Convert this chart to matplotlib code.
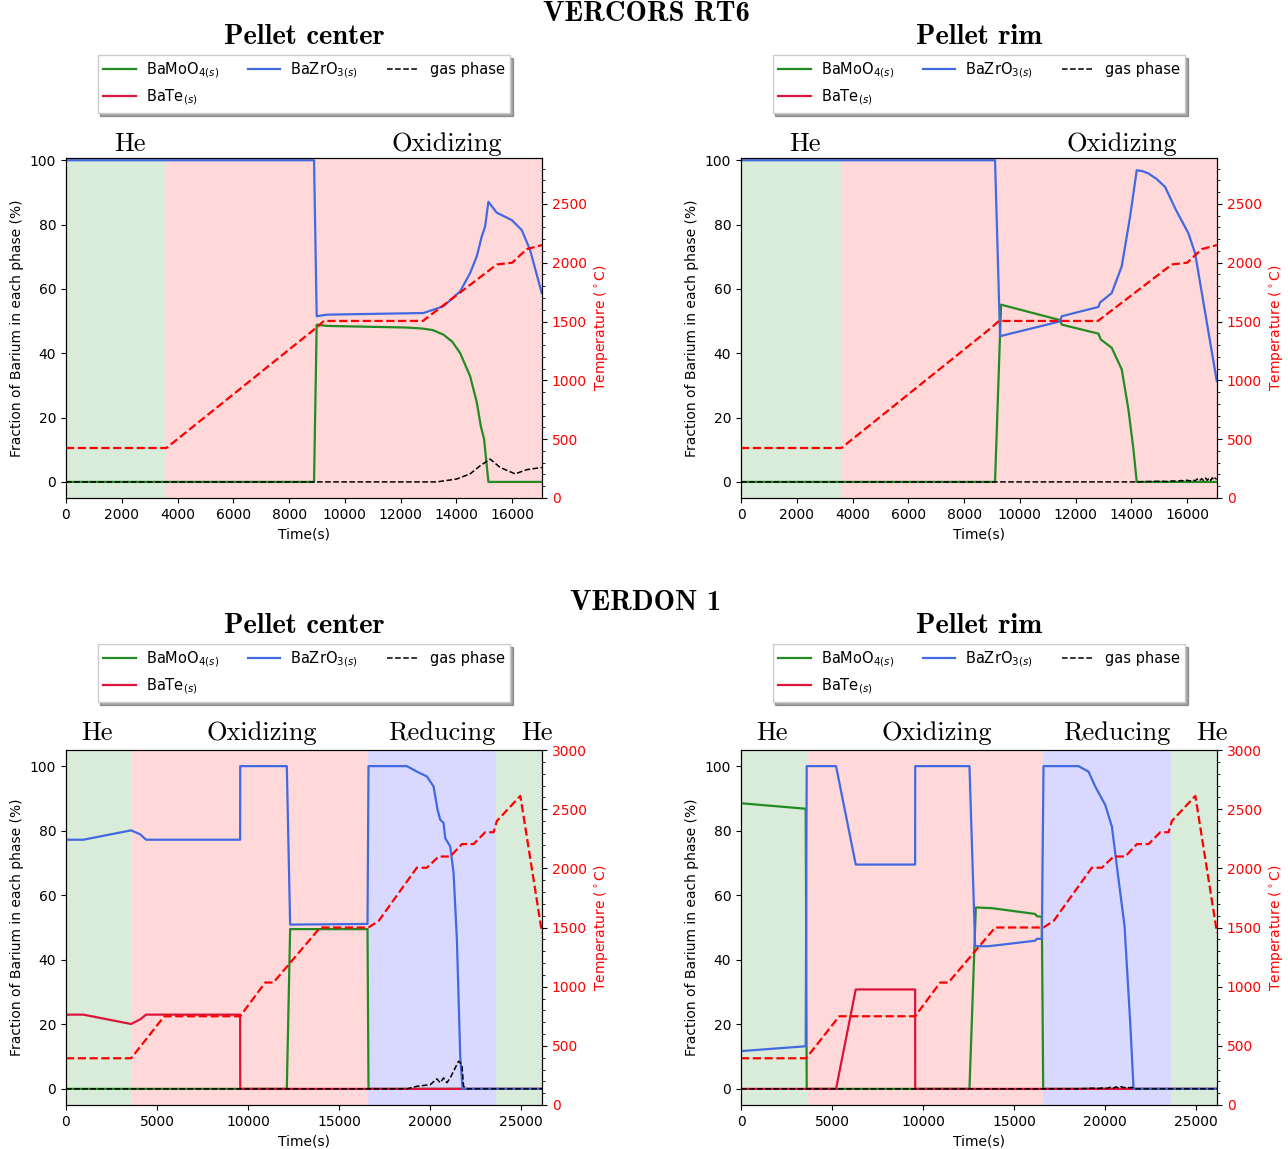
import matplotlib
matplotlib.use('Agg')
import matplotlib.pyplot as plt
from matplotlib.ticker import MultipleLocator

# ---------------- VERCORS RT6 ----------------
rt6_xmax = 17070
rt6_phase_edges = [0, 3600, 17070]
rt6_phase_names = ['He', 'Oxidizing']
rt6_phase_colors = ['green', 'red']

rt6_temp_t = [0, 3600, 8990, 9250, 12800, 15450, 16000, 16520, 17070]
rt6_temp = [425, 425, 1450, 1505, 1505, 1985, 2000, 2115, 2150]

# pellet center
rt6c_green_t = [0, 8895, 8990, 9350, 12200, 12757, 13150, 13533, 13850, 14132, 14491, 14730, 14874, 14993, 15148, 17061]
rt6c_green = [0, 0, 48.9, 48.5, 48.0, 47.7, 47.2, 45.8, 43.6, 40.1, 32.9, 24.8, 17.4, 13.3, 0, 0]
rt6c_red_t = []  # no BaTe at the pellet center
rt6c_red = []
rt6c_blue_t = [0, 8895, 8990, 9350, 12817, 13533, 14132, 14491, 14730, 14910, 15029, 15148, 15447, 15985, 16344, 16643, 17061]
rt6c_blue = [100, 100, 51.5, 52, 52.5, 54.6, 59.2, 64.9, 70.1, 76.3, 79.4, 87.1, 83.7, 81.4, 78.3, 72.1, 58.7]
rt6c_gas_t = [0, 13294, 14012, 14491, 14850, 15208, 15567, 16105, 16523, 17061]
rt6c_gas = [0, 0, 0.9, 2.5, 5.0, 7.1, 4.5, 2.5, 3.8, 4.5]

# pellet rim
rt6r_green_t = [0, 9110, 9326, 11442, 11502, 12817, 12901, 13294, 13653, 13892, 14072, 14192, 17061]
rt6r_green = [0, 0, 55.1, 50.3, 48.9, 46.1, 44.3, 41.7, 35.0, 22.6, 10.2, 0, 0]
rt6r_red_t = []
rt6r_red = []
rt6r_blue_t = [0, 9110, 9290, 11442, 11502, 12817, 12877, 13294, 13653, 13952, 14192, 14400, 14610, 14900,
               15208, 15600, 16045, 16284, 17061]
rt6r_blue = [100, 100, 45.3, 49.9, 51.5, 54.4, 55.8, 58.7, 67.0, 82.4, 96.9, 96.6, 95.9, 94.2,
             91.7, 84.5, 77.3, 71.1, 31.4]
rt6r_gas_t = [0, 14200, 14500, 14800, 15100, 15300, 15500, 15650, 15800, 15900, 16000, 16100, 16200,
              16280, 16360, 16440, 16520, 16590, 16660, 16720, 16780, 16840, 16900, 16950, 17000, 17061]
rt6r_gas = [0, 0, 0.1, 0.15, 0.2, 0.1, 0.3, 0.15, 0.45, 0.2, 0.55, 0.25, 0.7, 0.3, 0.9, 0.35, 1.0,
            0.4, 1.2, 0.5, 1.1, 0.45, 1.3, 0.6, 1.2, 0.8]

# ---------------- VERDON 1 ----------------
v1_xmax = 26160
v1_phase_edges = [0, 3600, 16610, 23650, 26160]
v1_phase_names = ['He', 'Oxidizing', 'Reducing', 'He']
v1_phase_colors = ['green', 'red', 'blue', 'green']

v1_temp_t = [0, 3580, 5400, 9570, 10950, 11400, 13970, 16620, 17180, 19280, 19830, 20480, 21120,
             21760, 22400, 23040, 23500, 23680, 24970, 26160]
v1_temp = [395, 395, 750, 750, 1035, 1035, 1500, 1500, 1555, 2005, 2005, 2100, 2100,
           2205, 2205, 2305, 2305, 2400, 2612, 1455]

# pellet center
v1c_green_t = [0, 12135, 12318, 16570, 16625, 26160]
v1c_green = [0, 0, 49.5, 49.5, 0, 0]
v1c_red_t = [0, 953, 3575, 4070, 4400, 9570, 9575, 26160]
v1c_red = [23, 23, 20.1, 21.5, 23, 23, 0, 0]
v1c_blue_t = [0, 953, 3575, 4070, 4400, 9570, 9575, 12135, 12318, 16570, 16625, 18733, 19283, 19833,
              20200, 20420, 20566, 20750, 20841, 21116, 21300, 21483, 21666, 21795, 26160]
v1c_blue = [77.2, 77.2, 80.1, 78.9, 77.2, 77.2, 100, 100, 50.9, 51.1, 100, 100, 98.3, 96.8,
            93.7, 86.5, 83.4, 82.4, 77.7, 75.1, 66.9, 46.2, 10.1, 0, 0]
v1c_gas_t = [0, 18733, 19283, 20016, 20383, 20566, 20750, 20933, 21116, 21391, 21575, 21758, 21850, 22033, 26160]
v1c_gas = [0, 0, 0.8, 1.3, 3.1, 1.9, 3.4, 1.9, 3.4, 6.5, 8.6, 7.5, 0.8, 0, 0]

# pellet rim
v1r_green_t = [0, 3556, 3611, 12556, 12905, 13785, 16167, 16260, 16533, 16608, 26160]
v1r_green = [88.5, 86.8, 0, 0, 56.2, 56.0, 54.2, 53.5, 53.3, 0, 0]
v1r_red_t = [0, 5224, 6306, 9570, 9575, 26160]
v1r_red = [0, 0, 30.8, 30.8, 0, 0]
v1r_blue_t = [0, 3556, 3611, 5224, 6306, 9570, 9575, 12556, 12868, 13601, 16167, 16260, 16533, 16625,
              18550, 19100, 19467, 20016, 20383, 20658, 21080, 21391, 21575, 26160]
v1r_blue = [11.7, 13.2, 100, 100, 69.5, 69.5, 100, 100, 44.2, 44.2, 45.9, 46.5, 46.5, 100,
            100, 98.3, 93.7, 88.0, 81.3, 68.9, 50.4, 20.4, 0, 0]
v1r_gas_t = [0, 18500, 18900, 19300, 19600, 19900, 20100, 20300, 20450, 20600, 20750, 20900, 21050,
             21200, 21350, 21500, 21600, 26160]
v1r_gas = [0, 0, 0.1, 0.2, 0.1, 0.3, 0.15, 0.5, 0.2, 0.6, 0.3, 0.7, 0.35, 0.6, 0.3, 0.5, 0, 0]

FW, FH = 1288, 1149


def px_rect(left, top, right, bottom):
    return [left / FW, 1 - bottom / FH, (right - left) / FW, (bottom - top) / FH]


def draw_panel(fig, rect, series, temp_t, temp, edges, names, colors, label_x, label_y,
               xmax, xstep, ylim, tlim, title, leg_y, title_y):
    ax = fig.add_axes(rect)
    for i in range(len(names)):
        ax.axvspan(edges[i], edges[i + 1], color=colors[i], alpha=0.15, lw=0)
    (gt, g), (rt, r), (bt, b), (st, s) = series
    ax.plot(gt, g, color='forestgreen', lw=1.6, label=r'BaMoO$_{4(s)}$')
    ax.plot(rt, r, color='crimson', lw=1.6, label=r'BaTe$_{(s)}$')
    ax.plot(bt, b, color='royalblue', lw=1.6, label=r'BaZrO$_{3(s)}$')
    ax.plot(st, s, color='black', lw=1.1, ls='--', label='gas phase')
    ax.set_xlim(0, xmax)
    ax.set_ylim(*ylim)
    ax.xaxis.set_major_locator(MultipleLocator(xstep))
    ax.yaxis.set_major_locator(MultipleLocator(20))
    ax.set_xlabel('Time(s)', fontsize=10)
    ax.set_ylabel('Fraction of Barium in each phase (%)', fontsize=10)
    ax.tick_params(labelsize=10)

    ax2 = ax.twinx()
    ax2.plot(temp_t, temp, color='red', lw=1.6, ls='--')
    ax2.set_ylim(*tlim)
    ax2.yaxis.set_major_locator(MultipleLocator(500))
    ax2.yaxis.set_minor_locator(MultipleLocator(100))
    ax2.tick_params(axis='y', which='both', color='black', labelcolor='red', labelsize=10)
    ax2.set_ylabel(r'Temperature ($^\circ$C)', color='red', fontsize=10)

    for name, lx in zip(names, label_x):
        ax.text(lx, label_y, name, transform=ax.transAxes, ha='center', va='baseline',
                fontsize=19, fontfamily='cmr10')
    ax.text(0.5, title_y, title, transform=ax.transAxes, ha='center', va='center',
            fontsize=20.5, fontfamily='cmb10')
    leg = ax.legend(loc='upper center', bbox_to_anchor=(0.5, leg_y), ncol=3, fontsize=10.5,
                    handlelength=2.2, handletextpad=0.7, columnspacing=2.0,
                    shadow=True, fancybox=False, framealpha=1, edgecolor='0.8')
    leg.set_zorder(5)
    return ax


def main():
    fig = plt.figure(figsize=(FW / 100, FH / 100), dpi=100)

    rt6_label_x = [0.134, 0.80]
    v1_label_x = [0.065, 0.412, 0.79, 0.989]

    draw_panel(fig, px_rect(66, 158, 542, 498),
               [(rt6c_green_t, rt6c_green), (rt6c_red_t, rt6c_red), (rt6c_blue_t, rt6c_blue), (rt6c_gas_t, rt6c_gas)],
               rt6_temp_t, rt6_temp, rt6_phase_edges, rt6_phase_names, rt6_phase_colors,
               rt6_label_x, 1.02, rt6_xmax, 2000, (-5, 100.7), (0, 2890), 'Pellet center', 1.325, 1.356)
    draw_panel(fig, px_rect(741, 158, 1217, 498),
               [(rt6r_green_t, rt6r_green), (rt6r_red_t, rt6r_red), (rt6r_blue_t, rt6r_blue), (rt6r_gas_t, rt6r_gas)],
               rt6_temp_t, rt6_temp, rt6_phase_edges, rt6_phase_names, rt6_phase_colors,
               rt6_label_x, 1.02, rt6_xmax, 2000, (-5, 100.7), (0, 2890), 'Pellet rim', 1.325, 1.356)
    draw_panel(fig, px_rect(66, 750, 542, 1105),
               [(v1c_green_t, v1c_green), (v1c_red_t, v1c_red), (v1c_blue_t, v1c_blue), (v1c_gas_t, v1c_gas)],
               v1_temp_t, v1_temp, v1_phase_edges, v1_phase_names, v1_phase_colors,
               v1_label_x, 1.028, v1_xmax, 5000, (-5, 105), (0, 3000), 'Pellet center', 1.319, 1.349)
    draw_panel(fig, px_rect(741, 750, 1217, 1105),
               [(v1r_green_t, v1r_green), (v1r_red_t, v1r_red), (v1r_blue_t, v1r_blue), (v1r_gas_t, v1r_gas)],
               v1_temp_t, v1_temp, v1_phase_edges, v1_phase_names, v1_phase_colors,
               v1_label_x, 1.028, v1_xmax, 5000, (-5, 105), (0, 3000), 'Pellet rim', 1.319, 1.349)

    fig.text(646 / FW, 1 - 14 / FH, 'VERCORS RT6', ha='center', va='center', fontsize=20.5, fontfamily='cmb10')
    fig.text(646 / FW, 1 - 603 / FH, 'VERDON 1', ha='center', va='center', fontsize=20.5, fontfamily='cmb10')

    fig.savefig('out.png', dpi=100)


if __name__ == '__main__':
    main()
